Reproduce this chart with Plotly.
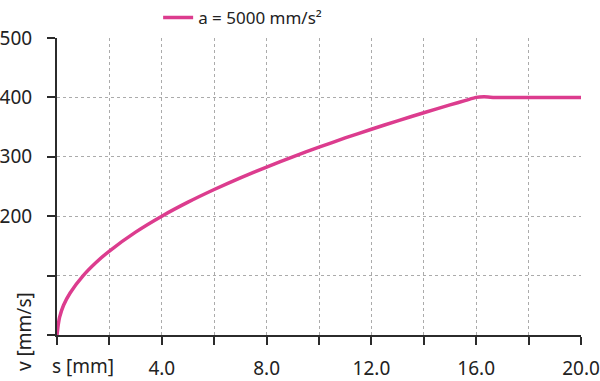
import plotly.graph_objects as go

s_mm = [0, 0.05, 0.1, 0.25, 0.5, 1, 1.5, 2, 3, 4, 5, 6, 7, 8, 9, 10, 11, 12, 13, 14, 15, 15.6, 16, 16.3, 16.7, 17, 18, 19, 20]
v_mms = [0, 18, 30, 50, 70.7, 100, 122.5, 141.4, 173.2, 200, 223.6, 244.9, 264.6, 282.8, 300, 316.2,
         331.7, 346.4, 360.6, 374.2, 387.3, 395, 400, 401, 400, 400, 400, 400, 400]
series_name = "a = 5000 mm/s²"

x_tickvals = [0, 2, 4, 6, 8, 10, 12, 14, 16, 18, 20]
x_ticktext = ["", "", "4.0", "", "8.0", "", "12.0", "", "16.0", "", "20.0"]
y_tickvals = [0, 100, 200, 300, 400, 500]
y_ticktext = ["", "", "200", "300", "400", "500"]

color = "#dc3c8e"
axis_color = "#2b2b2b"
font = dict(family="Noto Sans", size=19, color="#222222")

fig = go.Figure()
fig.add_trace(go.Scatter(x=s_mm, y=v_mms, mode="lines", name=series_name,
                         line=dict(color=color, width=3.5, shape="spline", smoothing=0.6)))

axis_common = dict(showgrid=True, gridcolor="#ababab", griddash="3px,3px", gridwidth=1,
                   showline=True, linecolor=axis_color, linewidth=2,
                   ticks="outside", ticklen=8, tickwidth=2, tickcolor=axis_color,
                   zeroline=False, fixedrange=True, automargin=False)

fig.update_layout(
    width=600, height=381,
    margin=dict(l=57, r=19, t=38, b=46, autoexpand=False),
    paper_bgcolor="white", plot_bgcolor="white",
    font=font,
    showlegend=True,
    legend=dict(orientation="h", x=0.193, y=1.0, xanchor="left", yanchor="top",
                yref="container",
                font=dict(family="Noto Sans", size=17, color="#222222"),
                bgcolor="rgba(0,0,0,0)"),
    xaxis=dict(range=[0, 20], tickvals=x_tickvals, ticktext=x_ticktext,
               ticklabelstandoff=7, **axis_common),
    yaxis=dict(range=[0, 500], tickvals=y_tickvals, ticktext=y_ticktext,
               ticklabelstandoff=11, **axis_common),
    annotations=[
        dict(text="s [mm]", xref="paper", yref="paper", x=0, y=0, xanchor="left",
             yanchor="middle", xshift=-7, yshift=-31, showarrow=False, font=font),
        dict(text="v [mm/s]", xref="paper", yref="paper", x=0, y=0, xanchor="center",
             yanchor="middle", xshift=-33, yshift=3, textangle=-90, showarrow=False, font=font),
    ],
)

fig.write_html("out.html", config={"displayModeBar": False},
               post_script="document.body.style.margin='0';document.body.style.padding='0';")
